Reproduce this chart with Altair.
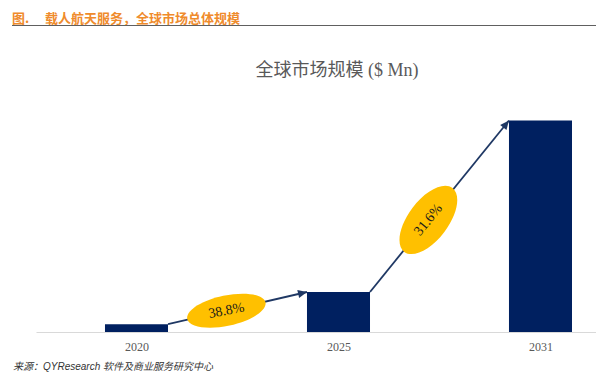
import math
import altair as alt
import pandas as pd

# ---- data ----
years = ["2020", "2025", "2031"]
market = [78, 400, 2115]          # $ Mn
cagr_labels = ["38.8%", "31.6%"]

header_fig = "图."
header_text = "载人航天服务，全球市场总体规模"
chart_title = "全球市场规模 ($ Mn)"
source_text = "来源：QYResearch 软件及商业服务研究中心"

# ---- layout / style ----
PW, PH = 560, 232
half_w = 0.156
x_domain = [-0.4975, 2.2748]
y_domain = [0, 2320]
px_x = PW / (x_domain[1] - x_domain[0])
px_y = PH / (y_domain[1] - y_domain[0])
BAR = "#002060"
ARROW = "#1F3864"
ELL = "#FFC000"
ell_angles = [348, 307]
ell_ratio = [0.38, 0.50]
ell_len = [80, 80]
txt_angles = [349, 309]
t_pos = 0.42

idx = list(range(len(years)))
bars = pd.DataFrame({
    "x0": [i - half_w for i in idx],
    "x1": [i + half_w for i in idx],
    "v": market,
    "year": years,
})

rows = []
for k in range(len(years) - 1):
    xs, ys = k + half_w, market[k]
    xe, ye = k + 1 - half_w, market[k + 1]
    ang = math.degrees(math.atan2(-(ye - ys) * px_y, (xe - xs) * px_x)) % 360
    r = ell_ratio[k]
    rows.append({
        "xs": xs, "ys": ys, "xe": xe, "ye": ye, "hang": ang,
        "cx": xs + t_pos * (xe - xs), "cy": ys + t_pos * (ye - ys),
        "eang": ell_angles[k], "tang": txt_angles[k],
        "eshape": f"M -1 0 A 1 {r} 0 1 0 1 0 A 1 {r} 0 1 0 -1 0 Z",
        "esize": ell_len[k] ** 2,
        "label": cagr_labels[k],
    })
arr = pd.DataFrame(rows)

xs_scale = alt.Scale(domain=x_domain, nice=False, zero=False)
ys_scale = alt.Scale(domain=y_domain, nice=False, zero=True)
label_expr = "[" + ",".join(f"'{y}'" for y in years) + "][datum.value]"
xaxis = alt.Axis(values=idx, labelExpr=label_expr, ticks=False, grid=False,
                 domainColor="#d9d9d9", domainWidth=1, labelFont="Liberation Serif",
                 labelFontSize=12, labelColor="#595959", labelPadding=9,
                 labelFlush=False, title=None)

bar_layer = alt.Chart(bars).mark_bar(color=BAR).encode(
    x=alt.X("x0:Q", scale=xs_scale, axis=xaxis),
    x2="x1:Q",
    y=alt.Y("v:Q", scale=ys_scale, axis=None),
    y2=alt.datum(0),
)

line_layer = alt.Chart(arr).mark_rule(color=ARROW, strokeWidth=1.8).encode(
    x=alt.X("xs:Q", scale=xs_scale, axis=xaxis),
    y=alt.Y("ys:Q", scale=ys_scale, axis=None),
    x2="xe:Q", y2="ye:Q",
)

head_layer = alt.Chart(arr).mark_point(
    shape="M 0 0 L -1 -0.45 L -1 0.45 Z", filled=True, opacity=1,
    color=ARROW, size=324, strokeWidth=0,
).encode(
    x=alt.X("xe:Q", scale=xs_scale, axis=xaxis),
    y=alt.Y("ye:Q", scale=ys_scale, axis=None),
    angle=alt.Angle("hang:Q", scale=None),
)

ell_layer = alt.Chart(arr).mark_point(filled=True, opacity=1, color=ELL, strokeWidth=0).encode(
    x=alt.X("cx:Q", scale=xs_scale, axis=xaxis),
    y=alt.Y("cy:Q", scale=ys_scale, axis=None),
    shape=alt.Shape("eshape:N", scale=None),
    size=alt.Size("esize:Q", scale=None),
    angle=alt.Angle("eang:Q", scale=None),
)

ell_text = alt.Chart(arr).mark_text(font="Liberation Serif", fontSize=14, color="#1a1a1a",
                                    align="center", baseline="middle").encode(
    x=alt.X("cx:Q", scale=xs_scale, axis=xaxis),
    y=alt.Y("cy:Q", scale=ys_scale, axis=None),
    text="label:N",
    angle=alt.Angle("tang:Q", scale=None),
)

one = pd.DataFrame({"a": [0]})
hdr1 = alt.Chart(one).mark_text(text=header_fig, font="Noto Sans CJK SC", fontWeight="bold",
                                fontSize=13, color="#EF8B2C", align="left",
                                baseline="middle").encode(x=alt.value(-24), y=alt.value(-81))
hdr2 = alt.Chart(one).mark_text(text=header_text, font="Noto Sans CJK SC", fontWeight="bold",
                                fontSize=13, color="#EF8B2C", align="left",
                                baseline="middle").encode(x=alt.value(9), y=alt.value(-81))
hdr_line = alt.Chart(one).mark_rule(color="#606060", strokeWidth=1.2).encode(
    x=alt.value(-24), x2=alt.value(560), y=alt.value(-74.5))
title = alt.Chart(one).mark_text(text=chart_title, font="Liberation Serif, Noto Sans CJK SC",
                                 fontSize=18, color="#595959", align="center",
                                 baseline="middle").encode(x=alt.value(301), y=alt.value(-29))
source = alt.Chart(one).mark_text(text=source_text, font="Liberation Sans, Noto Sans CJK SC",
                                  fontSize=10, fontStyle="italic", color="#333333",
                                  align="left", baseline="middle").encode(
    x=alt.value(-23), y=alt.value(267))

chart = alt.layer(
    bar_layer, line_layer, head_layer, ell_layer, ell_text,
    hdr1, hdr2, hdr_line, title, source,
).properties(
    width=PW, height=PH,
    autosize=alt.AutoSizeParams(type="none"),
    padding={"left": 28, "top": 92, "right": 0, "bottom": 51},
).configure_view(stroke=None)

chart.save("out.html", embed_options={"renderer": "svg", "actions": False})
